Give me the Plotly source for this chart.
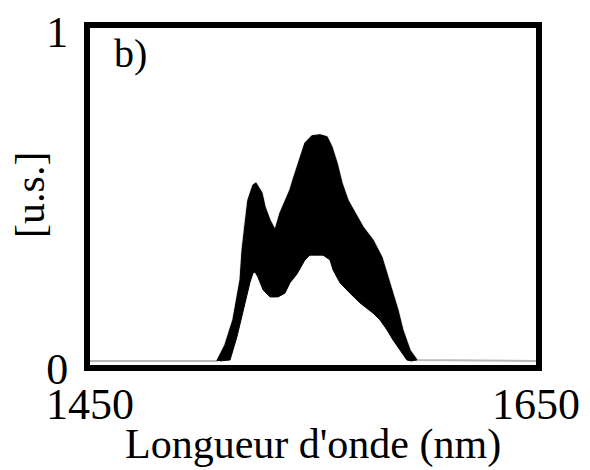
import plotly.graph_objects as go

# Spectral envelope of the output (arbitrary units) vs wavelength in nm
wl_upper = [1450, 1506.9, 1510.5, 1514.1, 1517.3, 1518.2, 1519.5, 1520.8, 1523.1, 1524.4,
            1527.1, 1528.5, 1530.7, 1533.0, 1535.2, 1537.4, 1539.7, 1541.0, 1542.8,
            1545.1, 1546.4, 1549.5, 1553.1, 1556.3, 1558.5, 1560.8, 1563.0, 1565.7,
            1568.8, 1572.4, 1576.9, 1580.9, 1583.6, 1585.9, 1588.1, 1590.3, 1593.5,
            1596.6, 1650]
upper = [0.012, 0.012, 0.059, 0.134, 0.253, 0.341, 0.422, 0.489, 0.534, 0.540,
         0.511, 0.469, 0.430, 0.401, 0.451, 0.483, 0.520, 0.549, 0.587,
         0.629, 0.659, 0.680, 0.683, 0.677, 0.647, 0.599, 0.540, 0.489,
         0.451, 0.410, 0.371, 0.320, 0.261, 0.213, 0.163, 0.104, 0.044,
         0.015, 0.012]

wl_lower = [1508.3, 1512.8, 1515.9, 1518.2, 1519.5, 1521.7, 1523.1, 1524.0, 1525.3,
            1527.6, 1530.7, 1534.3, 1537.4, 1539.7, 1542.8, 1546.4, 1548.6, 1554.5,
            1557.6, 1559.0, 1562.1, 1566.6, 1571.1, 1576.9, 1580.0, 1583.2, 1585.9,
            1589.0, 1592.1, 1594.0]
lower = [0.012, 0.015, 0.084, 0.143, 0.184, 0.244, 0.273, 0.276, 0.261,
         0.223, 0.202, 0.202, 0.213, 0.244, 0.270, 0.312, 0.326, 0.326,
         0.312, 0.282, 0.244, 0.213, 0.184, 0.154, 0.134, 0.104, 0.074,
         0.044, 0.015, 0.012]

x_ticks = [1450, 1650]
y_ticks = [0, 1]

FONT = "Liberation Serif"

fig = go.Figure()

# baseline level of the spectrum, drawn faintly
fig.add_trace(go.Scatter(x=wl_upper, y=upper, mode="lines",
                         line=dict(color="#b8b8b8", width=2),
                         hoverinfo="skip", showlegend=False))

# filled band between the upper and lower envelopes
band_x = wl_upper[1:-1] + wl_lower[::-1]
band_y = upper[1:-1] + lower[::-1]
fig.add_trace(go.Scatter(x=band_x, y=band_y, mode="lines", fill="toself",
                         fillcolor="black", line=dict(color="black", width=1),
                         showlegend=False))

# panel label and axis titles placed as free text
fig.add_annotation(text="b)", xref="paper", yref="paper", x=0.05, y=0.997,
                   xanchor="left", yanchor="top", showarrow=False,
                   font=dict(family=FONT, size=40, color="black"))
fig.add_annotation(text="Longueur d'onde (nm)", xref="paper", yref="paper",
                   x=0.5, y=-0.16, xanchor="center", yanchor="top",
                   showarrow=False, font=dict(family=FONT, size=42, color="black"))
fig.add_annotation(text="[u.s.]", xref="paper", yref="paper", textangle=-90,
                   x=-0.135, y=0.504, xanchor="center", yanchor="middle",
                   showarrow=False, font=dict(family=FONT, size=42, color="black"))

fig.update_layout(
    width=590, height=470,
    margin=dict(l=90, r=54, t=28, b=105),
    paper_bgcolor="white", plot_bgcolor="white",
    font=dict(family=FONT, color="black", size=44),
    xaxis=dict(range=[1450, 1650], tickvals=x_ticks, ticktext=[str(v) for v in x_ticks],
               showgrid=False, zeroline=False, showline=True, mirror=True,
               linecolor="black", linewidth=6, ticks="", ticklabelstandoff=-5,
               automargin=False),
    yaxis=dict(range=[0, 1], tickvals=y_ticks, ticktext=[str(v) for v in y_ticks],
               showgrid=False, zeroline=False, showline=True, mirror=True,
               linecolor="black", linewidth=6, ticks="", ticklabelstandoff=7,
               ticklabelshift=4, automargin=False),
)

fig.write_html("out.html")
